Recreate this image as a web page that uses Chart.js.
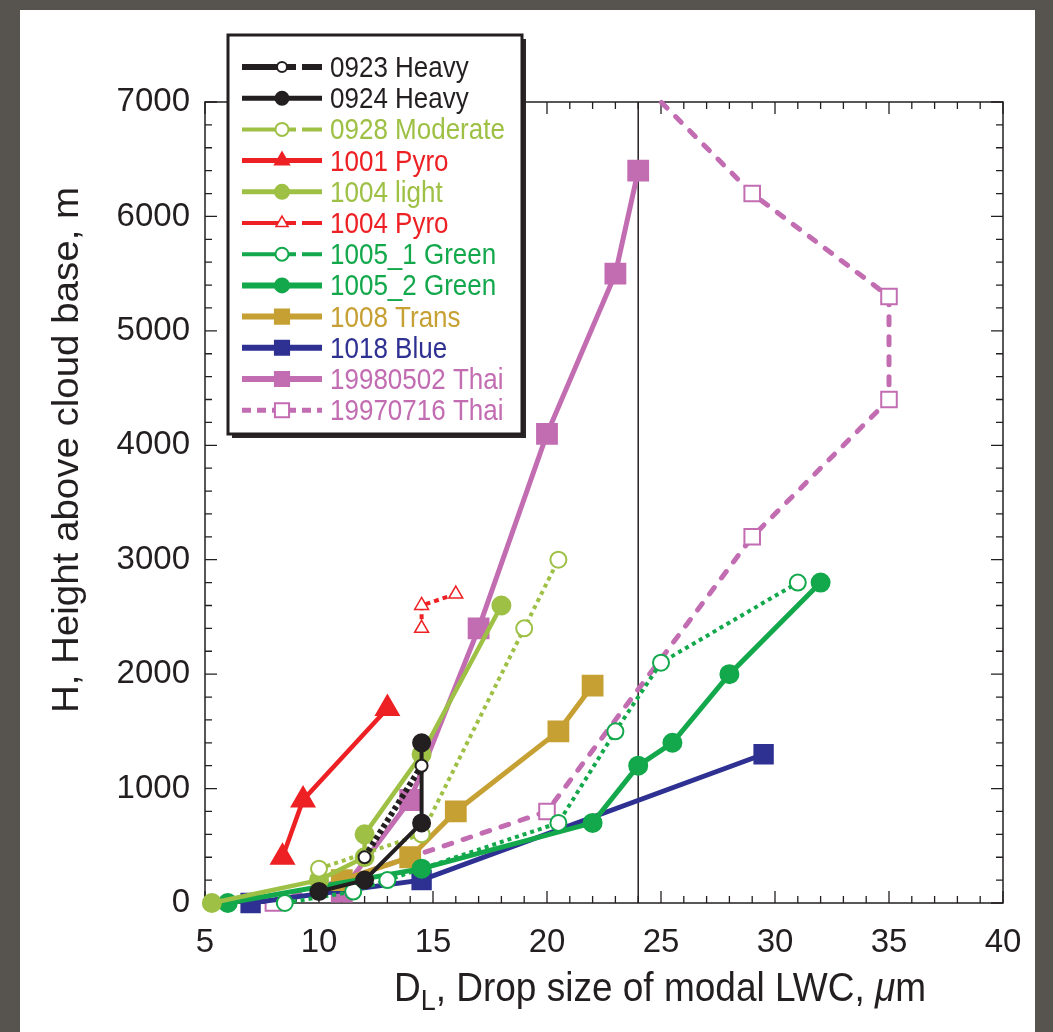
<!DOCTYPE html>
<html><head><meta charset="utf-8">
<script src="https://cdn.jsdelivr.net/npm/chart.js@4.4.1/dist/chart.umd.min.js"></script>
<style>
html,body{margin:0;padding:0;background:#57534e;}
#wrap{position:absolute;left:0;top:0;width:1053px;height:1032px;}
canvas{display:block}
</style></head><body>
<div id="wrap"><canvas id="c" width="1053" height="1032"></canvas></div>
<script>
// ---------- data ----------
const seriesNames = ['0923 Heavy','0924 Heavy','0928 Moderate','1001 Pyro','1004 light','1004 Pyro',
  '1005_1 Green','1005_2 Green','1008 Trans','1018 Blue','19980502 Thai','19970716 Thai'];
const xTickValues = [5,10,15,20,25,30,35,40];
const yTickValues = [0,1000,2000,3000,4000,5000,6000,7000];

const heavy0923X = [12, 14.5];
const heavy0923Y = [400, 1200];
const heavy0924X = [10, 12, 14.5, 14.5];
const heavy0924Y = [100, 200, 700, 1400];
const moderate0928X = [10, 14.5, 19, 20.5];
const moderate0928Y = [300, 600, 2400, 3000];
const pyro1001X = [8.4, 9.3, 13];
const pyro1001Y = [400, 900, 1700];
const light1004X = [5.3, 10, 12, 12, 14.5, 18];
const light1004Y = [0, 200, 400, 600, 1300, 2600];
const pyro1004X = [14.5, 14.5, 16];
const pyro1004Y = [2400, 2600, 2700];
const green1005aX = [8.5, 11.5, 13, 20.5, 23, 25, 31];
const green1005aY = [0, 100, 200, 700, 1500, 2100, 2800];
const green1005bX = [6, 14.5, 22, 24, 25.5, 28, 32];
const green1005bY = [0, 300, 700, 1200, 1400, 2000, 2800];
const trans1008X = [11, 14, 16, 20.5, 22];
const trans1008Y = [200, 400, 800, 1500, 1900];
const blue1018X = [7, 14.5, 29.5];
const blue1018Y = [0, 200, 1300];
const thai1998X = [11, 14, 17, 20, 23, 24];
const thai1998Y = [100, 900, 2400, 4100, 5500, 6400];
const thai1997X = [8, 20, 29, 35, 35, 29, 25];
const thai1997Y = [0, 800, 3200, 4400, 5300, 6200, 7000];
const refLineX = [24, 24];
const refLineY = [0, 7000];

// ---------- styles ----------
const BLACK='#231f20', YG='#9dc045', RED='#ed2024', GREEN='#12a84b', GOLD='#c6a033', NAVY='#2e3192', PINK='#c26cb2';
const FONT = "'Liberation Sans', Arial, Helvetica, sans-serif";
const pts = (xs, ys) => xs.map((x, i) => ({x, y: ys[i]}));

function ds(label, xs, ys, color, opt) {
  return Object.assign({
    label, data: pts(xs, ys), borderColor: color, backgroundColor: color,
    pointBorderColor: color, pointBackgroundColor: color,
    borderWidth: 5, showLine: true, clip: false, pointBorderWidth: 2,
    pointStyle: 'circle', pointRadius: 8, borderDash: [], tension: 0,
    legendColor: color, legendDash: null
  }, opt || {});
}
const broken = 'broken';
const datasets = [
  ds(seriesNames[0], heavy0923X, heavy0923Y, BLACK, {borderWidth:6, borderDash:[4,3], pointBackgroundColor:'#fff', pointRadius:6, legendDash: broken, legendWidth: 6, legendR: 5}),
  ds(seriesNames[1], heavy0924X, heavy0924Y, BLACK, {borderWidth:4, pointRadius:8.5, legendWidth: 5, legendR: 6.5}),
  ds(seriesNames[2], moderate0928X, moderate0928Y, YG, {borderWidth:4, borderDash:[4,4], pointBackgroundColor:'#fff', pointRadius:8, legendDash: broken, legendWidth: 4, legendR: 6.5}),
  ds(seriesNames[3], pyro1001X, pyro1001Y, RED, {borderWidth:4.5, pointStyle:'triangle', pointRadius:13, legendWidth: 5, legendR: 8}),
  ds(seriesNames[4], light1004X, light1004Y, YG, {borderWidth:4.5, pointRadius:9, legendWidth: 5, legendR: 7}),
  ds(seriesNames[5], pyro1004X, pyro1004Y, RED, {borderWidth:4, borderDash:[5,4], pointStyle:'triangle', pointBackgroundColor:'#fff', pointRadius:8, pointBorderWidth:1.5, legendDash: broken, legendWidth: 4, legendR: 7}),
  ds(seriesNames[6], green1005aX, green1005aY, GREEN, {borderWidth:4, borderDash:[4,4], pointBackgroundColor:'#fff', pointRadius:8, legendDash: broken, legendWidth: 4, legendR: 6.5}),
  ds(seriesNames[7], green1005bX, green1005bY, GREEN, {borderWidth:5, pointRadius:9, legendWidth: 6, legendR: 7}),
  ds(seriesNames[8], trans1008X, trans1008Y, GOLD, {borderWidth:5, pointStyle:'rect', pointRadius:14, legendWidth: 6, legendR: 10}),
  ds(seriesNames[9], blue1018X, blue1018Y, NAVY, {borderWidth:5, pointStyle:'rect', pointRadius:13, legendWidth: 6, legendR: 10}),
  ds(seriesNames[10], thai1998X, thai1998Y, PINK, {borderWidth:5, pointStyle:'rect', pointRadius:14, legendWidth: 6, legendR: 10}),
  ds(seriesNames[11], thai1997X, thai1997Y, PINK, {borderWidth:5, borderDash:[8,12], borderCapStyle:'round', pointStyle:'rect', pointBackgroundColor:'#fff', pointBorderWidth:2,
     pointRadius: c => (c.raw && c.raw.y >= 7000) ? 0 : 11, legendDash: [9,6], legendWidth: 5, legendR: 10}),
  {label:'ref', data: pts(refLineX, refLineY), borderColor: BLACK, borderWidth: 1.5, pointRadius: 0, showLine: true, clip: false, isRef: true}
];

// ---------- plugins ----------
const bgPlugin = {
  id: 'bg',
  beforeDraw(chart) {
    const c = chart.ctx;
    c.save();
    c.fillStyle = '#57534e'; c.fillRect(0, 0, chart.width, chart.height);
    c.fillStyle = '#ffffff'; c.fillRect(20, 10, 1015, 1022);
    c.restore();
  }
};

const framePlugin = {
  id: 'frame',
  beforeDatasetsDraw(chart) {
    const {ctx, chartArea: a, scales: {x, y}} = chart;
    ctx.save();
    ctx.strokeStyle = BLACK; ctx.lineWidth = 1.5;
    ctx.strokeRect(a.left, a.top, a.right - a.left, a.bottom - a.top);
    ctx.lineWidth = 1.3;
    ctx.beginPath();
    for (let v = x.min; v <= x.max + 1e-9; v += 1) {
      const px = x.getPixelForValue(v);
      const L = (Math.round(v) % 5 === 0) ? 12 : 7;
      ctx.moveTo(px, a.bottom); ctx.lineTo(px, a.bottom - L);
      ctx.moveTo(px, a.top); ctx.lineTo(px, a.top + L);
    }
    for (let v = y.min; v <= y.max + 1e-9; v += 200) {
      const py = y.getPixelForValue(v);
      const L = (Math.round(v) % 1000 === 0) ? 12 : 7;
      ctx.moveTo(a.left, py); ctx.lineTo(a.left + L, py);
      ctx.moveTo(a.right, py); ctx.lineTo(a.right - L, py);
    }
    ctx.stroke();
    ctx.restore();
  }
};

function drawMarker(ctx, style, r, x, y, fill, stroke, bw) {
  ctx.beginPath();
  if (style === 'circle') {
    ctx.arc(x, y, r, 0, Math.PI * 2);
  } else if (style === 'rect') {
    const s = r * Math.SQRT1_2;
    ctx.rect(x - s, y - s, 2 * s, 2 * s);
  } else if (style === 'triangle') {
    ctx.moveTo(x, y - r);
    ctx.lineTo(x + r * Math.sin(Math.PI * 2 / 3), y - r * Math.cos(Math.PI * 2 / 3));
    ctx.lineTo(x - r * Math.sin(Math.PI * 2 / 3), y - r * Math.cos(Math.PI * 2 / 3));
    ctx.closePath();
  }
  ctx.fillStyle = fill; ctx.fill();
  ctx.lineWidth = bw; ctx.strokeStyle = stroke; ctx.stroke();
}

const titlePlugin = {
  id: 'titles',
  afterDraw(chart) {
    const ctx = chart.ctx;
    ctx.save();
    ctx.fillStyle = BLACK;
    // y title (rotated)
    ctx.font = '37px ' + FONT;
    ctx.textAlign = 'center'; ctx.textBaseline = 'middle';
    ctx.translate(68, 450); ctx.rotate(-Math.PI / 2); ctx.scale(1.04, 1);
    ctx.fillText('H, Height above cloud base, m', 0, 0);
    ctx.setTransform(1, 0, 0, 1, 0, 0);
    // x title with subscript
    const parts = [
      {t: 'D', f: '37px ' + FONT, dy: 0},
      {t: 'L', f: '27px ' + FONT, dy: 8},
      {t: ', Drop size of modal LWC, ', f: '37px ' + FONT, dy: 0},
      {t: '\u03bc', f: 'italic 37px ' + FONT, dy: 0},
      {t: 'm', f: '37px ' + FONT, dy: 0}
    ];
    let w = 0;
    parts.forEach(p => { ctx.font = p.f; p.w = ctx.measureText(p.t).width; w += p.w; });
    let xx = 660 - w / 2;
    ctx.textAlign = 'left'; ctx.textBaseline = 'alphabetic';
    ctx.translate(0, 1001); ctx.scale(1, 1.12);
    parts.forEach(p => { ctx.font = p.f; ctx.fillText(p.t, xx, p.dy); xx += p.w; });
    ctx.restore();
  }
};

const legendPlugin = {
  id: 'boxLegend',
  afterDraw(chart) {
    const ctx = chart.ctx;
    const bx = 228, by = 35, bw = 294, bh = 399;
    ctx.save();
    ctx.fillStyle = '#2a2627';
    ctx.fillRect(bx + 4, by + 4, bw, bh);
    ctx.fillStyle = '#fff';
    ctx.fillRect(bx, by, bw, bh);
    ctx.lineWidth = 3; ctx.strokeStyle = BLACK;
    ctx.strokeRect(bx, by, bw, bh);
    const sets = chart.data.datasets.filter(d => !d.isRef);
    sets.forEach((d, i) => {
      const yy = 67 + i * 31.2;
      ctx.save();
      ctx.strokeStyle = d.borderColor;
      ctx.lineWidth = d.legendWidth;
      ctx.lineCap = 'butt';
      ctx.beginPath();
      if (d.legendDash === 'broken') {
        ctx.moveTo(242, yy); ctx.lineTo(296, yy);
        ctx.moveTo(302, yy); ctx.lineTo(322, yy);
      } else if (Array.isArray(d.legendDash)) {
        ctx.setLineDash(d.legendDash);
        ctx.moveTo(242, yy); ctx.lineTo(322, yy);
      } else {
        ctx.moveTo(242, yy); ctx.lineTo(322, yy);
      }
      ctx.stroke();
      ctx.setLineDash([]);
      drawMarker(ctx, d.pointStyle, d.legendR, 282, yy, d.pointBackgroundColor, d.pointBorderColor, d.pointBorderWidth || 2);
      ctx.restore();
      ctx.save();
      ctx.font = '26px ' + FONT;
      ctx.textBaseline = 'alphabetic'; ctx.textAlign = 'left';
      ctx.fillStyle = d.legendColor;
      ctx.translate(330, yy + 10); ctx.scale(1, 1.1);
      ctx.fillText(d.label, 0, 0);
      ctx.restore();
    });
    ctx.restore();
  }
};

new Chart(document.getElementById('c'), {
  type: 'scatter',
  data: { datasets },
  options: {
    responsive: false, animation: false, devicePixelRatio: 1,
    layout: { padding: { top: 102, right: 50, left: 0, bottom: 0 } },
    plugins: { legend: { display: false }, tooltip: { enabled: false } },
    scales: {
      x: {
        type: 'linear', min: 5, max: 40,
        afterBuildTicks: a => { a.ticks = xTickValues.map(v => ({value: v})); },
        afterFit: s => { s.height = 129; },
        grid: { display: false, drawTicks: false }, border: { display: false },
        ticks: { font: { family: FONT, size: 33 }, color: BLACK, padding: 20, maxRotation: 0, autoSkip: false,
                 callback: v => String(v) }
      },
      y: {
        type: 'linear', min: 0, max: 7000,
        afterBuildTicks: a => { a.ticks = yTickValues.map(v => ({value: v})); },
        afterFit: s => { s.width = 205; },
        grid: { display: false, drawTicks: false }, border: { display: false },
        ticks: { font: { family: FONT, size: 33 }, color: BLACK, padding: 15, autoSkip: false,
                 callback: v => String(v) }
      }
    }
  },
  plugins: [bgPlugin, framePlugin, titlePlugin, legendPlugin]
});
</script>
</body></html>
